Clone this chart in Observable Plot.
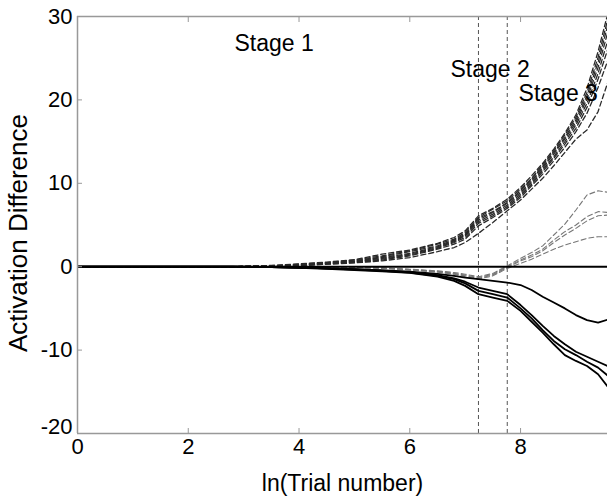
<!DOCTYPE html>
<html>
<head>
<meta charset="utf-8">
<script src="https://cdn.jsdelivr.net/npm/d3@7"></script>
<script src="https://cdn.jsdelivr.net/npm/@observablehq/plot@0.6"></script>
<style>
  html, body { margin: 0; padding: 0; background: #fff; }
  #chart svg { display: block; font-family: "Liberation Sans", Arial, Helvetica, sans-serif; }
</style>
</head>
<body>
<div id="chart"></div>
<script>
// x positions: ln(Trial number)
const xs = [0, 2, 2.8, 3.5, 4, 4.5, 5, 5.5, 6, 6.5, 6.8, 7.0, 7.24, 7.5, 7.76, 8.0, 8.2, 8.4, 8.6, 8.8, 9.0, 9.2, 9.4, 9.6];

// upper dashed bundle
const up1 = [0,0,0,0.15,0.35,0.55,0.85,1.5,2.0,2.8,3.5,4.3,6.1,7.0,8.1,9.5,10.9,12.4,14.1,16.0,18.2,21.4,25.8,31.0];
const up2 = [0,0,0,0.1,0.3,0.5,0.8,1.3,1.9,2.7,3.3,4.1,5.9,6.9,7.9,9.3,10.6,12.2,13.9,15.8,17.9,20.9,25.1,30.3];
const up3 = [0,0,0,0.1,0.25,0.45,0.7,1.2,1.8,2.5,3.2,3.9,5.8,6.6,7.7,9.1,10.5,12.0,13.7,15.5,17.6,20.5,24.5,29.6];
const up4 = [0,0,0,0.1,0.25,0.4,0.65,1.1,1.6,2.4,3.1,3.8,5.6,6.5,7.6,8.9,10.3,11.8,13.5,15.3,17.3,20.1,23.9,28.7];
const up5 = [0,0,0,0.1,0.2,0.4,0.6,1.0,1.5,2.3,3.0,3.7,5.4,6.3,7.4,8.7,10.1,11.6,13.2,15.0,17.0,19.6,23.2,27.7];
const up6 = [0,0,0,0.05,0.2,0.35,0.55,0.9,1.4,2.2,2.9,3.5,5.2,6.1,7.2,8.5,9.9,11.4,13.0,14.7,16.6,19.1,22.5,26.6];
const up7 = [0,0,0,0.05,0.15,0.3,0.5,0.8,1.3,2.1,2.7,3.3,4.9,5.9,7.0,8.3,9.7,11.1,12.7,14.3,16.2,18.4,21.5,25.2];
const up8 = [0,0,0,0.05,0.15,0.3,0.45,0.7,1.1,1.8,2.3,2.9,4.0,5.3,6.7,8.0,9.3,10.6,12.1,13.7,15.3,16.4,18.6,22.6];

// lower dashed bundle
const lo1 = [0,0,0,0,0,0,-0.05,-0.15,-0.3,-0.5,-0.7,-0.9,-1.2,-0.8,0.1,1.0,1.7,2.5,3.8,5.1,6.8,8.6,9.1,8.9];
const lo2 = [0,0,0,0,0,0,-0.05,-0.15,-0.35,-0.55,-0.8,-1.0,-1.3,-0.9,0.0,0.8,1.4,2.1,3.2,4.2,5.0,6.0,6.6,6.5];
const lo3 = [0,0,0,0,0,0,-0.05,-0.2,-0.35,-0.6,-0.85,-1.1,-1.4,-1.0,-0.1,0.7,1.2,1.9,2.9,3.8,4.6,5.5,6.1,6.2];
const lo4 = [0,0,0,0,0,0,-0.05,-0.2,-0.4,-0.65,-0.9,-1.2,-1.5,-1.1,-0.2,0.4,0.9,1.5,2.1,2.6,3.0,3.4,3.6,3.6];

// solid lines
const sA = [0,0,0,-0.05,-0.1,-0.2,-0.3,-0.45,-0.6,-0.85,-1.1,-1.3,-1.5,-1.7,-1.9,-2.2,-2.8,-3.6,-4.3,-5.0,-5.8,-6.4,-6.7,-6.3];
const sB = [0,0,0,-0.05,-0.1,-0.2,-0.3,-0.45,-0.65,-1.0,-1.4,-1.8,-2.5,-2.9,-3.3,-4.6,-5.8,-7.1,-8.3,-9.3,-10.2,-10.8,-11.4,-12.0];
const sC = [0,0,0,-0.05,-0.1,-0.2,-0.35,-0.5,-0.7,-1.1,-1.5,-2.0,-2.9,-3.3,-3.7,-5.0,-6.2,-7.6,-8.9,-9.9,-10.6,-11.4,-12.1,-13.2];
const sD = [0,0,0,-0.05,-0.15,-0.25,-0.4,-0.55,-0.75,-1.2,-1.7,-2.3,-3.3,-3.7,-4.1,-5.3,-6.6,-7.9,-9.3,-10.6,-11.3,-11.9,-12.9,-14.6];

// stage boundaries and labels
const stageBounds = [7.24, 7.76];
const stageLabels = ["Stage 1", "Stage 2", "Stage 3"];
const stageX = [3.55, 7.45, 8.68];
const stageY = [26.8, 23.6, 20.8];

const xTicks = [0, 2, 4, 6, 8];
const yTicks = [-10, 0, 10, 20, 30];
const yTickBottom = [-20];

function toRows(series, names) {
  const rows = [];
  series.forEach((arr, k) => arr.forEach((v, i) => rows.push({x: xs[i], y: v, s: names[k]})));
  return rows;
}
const upRows = toRows([up1, up2, up3, up4, up5, up6, up7, up8], ["u1","u2","u3","u4","u5","u6","u7","u8"]);
const loRows = toRows([lo1, lo2, lo3, lo4], ["l1","l2","l3","l4"]);
const solidRows = toRows([sA, sB, sC, sD], ["a","b","c","d"]);

const axisGray = "#999";
const fmt = d => String(d);

const chart = Plot.plot({
  width: 607,
  height: 496,
  marginLeft: 77,
  marginRight: 0,
  marginTop: 16,
  marginBottom: 63,
  style: {fontFamily: '"Liberation Sans", Arial, Helvetica, sans-serif', fontSize: "22px", color: "#000", background: "#fff"},
  x: {domain: [0, 9.57]},
  y: {domain: [-20, 30]},
  marks: [
    Plot.ruleX(stageBounds, {stroke: "#555", strokeWidth: 1, strokeDasharray: "4,3"}),
    Plot.line(loRows, {x: "x", y: "y", z: "s", stroke: "#777", strokeWidth: 1.1, strokeDasharray: "5,3", clip: true}),
    Plot.line(upRows, {x: "x", y: "y", z: "s", stroke: "#2a2a2a", strokeWidth: 1.3, strokeDasharray: "5,3", clip: true}),
    Plot.line(solidRows, {x: "x", y: "y", z: "s", stroke: "#000", strokeWidth: 1.8, clip: true}),
    Plot.ruleY([0], {stroke: "#000", strokeWidth: 2}),
    // frame lines (left, top, bottom)
    Plot.ruleX([0], {stroke: axisGray, strokeWidth: 1.5}),
    Plot.ruleY([30, -20], {stroke: axisGray, strokeWidth: 1.5}),
    // ticks (inward)
    Plot.axisX(xTicks, {anchor: "bottom", tickSize: -5, text: null, stroke: axisGray, label: null}),
    Plot.axisX(xTicks, {anchor: "top", tickSize: -5, text: null, stroke: axisGray, label: null}),
    Plot.axisY([-20, ...yTicks], {anchor: "left", tickSize: -5, text: null, stroke: axisGray, label: null}),
    // tick labels
    Plot.axisX(xTicks, {anchor: "bottom", tickSize: 0, tickPadding: 5, fontSize: 22, fill: "#000", label: null, tickFormat: fmt}),
    Plot.axisY(yTicks, {anchor: "left", tickSize: 0, tickPadding: 5, fontSize: 22, fill: "#000", label: null, tickFormat: fmt}),
    Plot.axisY(yTickBottom, {anchor: "left", tickSize: 0, tickPadding: 5, fontSize: 22, fill: "#000", label: null, dy: -7, tickFormat: fmt}),
    // axis titles
    Plot.text(["ln(Trial number)"], {frameAnchor: "bottom", dy: 50, fontSize: 23, fill: "#000", lineAnchor: "middle", textAnchor: "middle"}),
    Plot.text(["Activation Difference"], {frameAnchor: "left", rotate: -90, dx: -59, dy: 8, fontSize: 26, fill: "#000", lineAnchor: "middle", textAnchor: "middle"}),
    // stage labels
    Plot.text(stageLabels, {x: (d, i) => stageX[i], y: (d, i) => stageY[i], fontSize: 23, fill: "#000"})
  ]
});
document.getElementById("chart").appendChild(chart);
</script>
</body>
</html>
